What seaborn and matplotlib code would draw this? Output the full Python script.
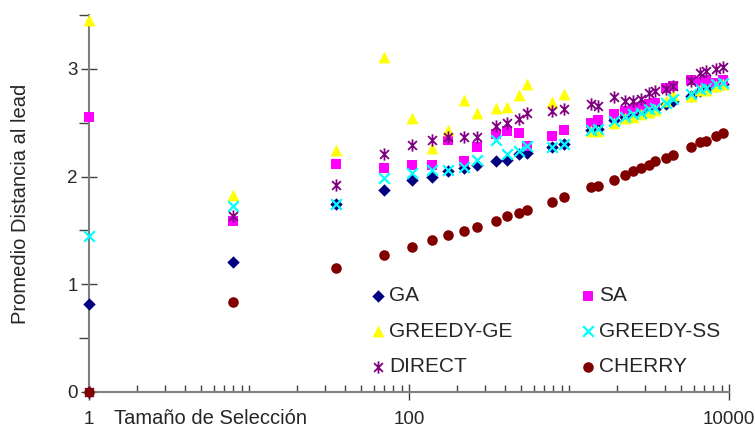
import numpy as np
import pandas as pd
import matplotlib
matplotlib.use("Agg")
import matplotlib.pyplot as plt
from matplotlib.path import Path
from matplotlib.ticker import LogLocator, FixedLocator, NullFormatter, FixedFormatter
import seaborn as sns

# ---- data ----
sizes = [1, 8, 35, 70, 105, 140, 175, 220, 265, 350, 410, 490, 550, 780, 930,
         1370, 1510, 1900, 2240, 2510, 2820, 3160, 3460, 4040, 4470, 5750,
         6590, 7150, 8300, 9140]
ga = [0.82, 1.207, 1.746, 1.879, 1.966, 1.997, 2.05, 2.081, 2.109, 2.149, 2.152,
      2.211, 2.22, 2.276, 2.307, 2.428, 2.444, 2.521, 2.555, 2.577, 2.59, 2.61,
      2.63, 2.67, 2.70, 2.75, 2.79, 2.81, 2.84, 2.86]
sa = [2.555, 1.584, 2.121, 2.081, 2.112, 2.109, 2.344, 2.142, 2.273, 2.391, 2.422,
      2.406, 2.288, 2.375, 2.437, 2.5, 2.524, 2.577, 2.607, 2.623, 2.65, 2.67,
      2.68, 2.82, 2.84, 2.9, 2.88, 2.9, 2.87, 2.9]
greedy_ge = [3.455, 1.833, 2.251, 3.113, 2.546, 2.267, 2.43, 2.71, 2.592, 2.633,
             2.648, 2.753, 2.862, 2.691, 2.769, 2.42, 2.42, 2.5, 2.546, 2.555,
             2.58, 2.6, 2.62, 2.7, 2.76, 2.75, 2.8, 2.8, 2.84, 2.86]
greedy_ss = [1.445, 1.724, 1.746, 1.988, 2.034, 2.065, 2.065, 2.09, 2.15, 2.344,
             2.205, 2.24, 2.28, 2.276, 2.307, 2.431, 2.444, 2.515, 2.555, 2.577,
             2.593, 2.623, 2.64, 2.686, 2.716, 2.763, 2.81, 2.825, 2.856, 2.87]
direct = [0, 1.631, 1.919, 2.205, 2.291, 2.338, 2.366, 2.366, 2.366, 2.465, 2.493,
          2.53, 2.592, 2.607, 2.623, 2.67, 2.652, 2.74, 2.7, 2.7, 2.72, 2.78,
          2.79, 2.81, 2.84, 2.89, 2.96, 2.98, 3.0, 3.02]
cherry = [0, 0.84, 1.153, 1.274, 1.349, 1.407, 1.454, 1.498, 1.528, 1.584, 1.631,
          1.662, 1.693, 1.765, 1.814, 1.9, 1.916, 1.972, 2.019, 2.049, 2.081,
          2.112, 2.14, 2.174, 2.198, 2.273, 2.319, 2.332, 2.375, 2.403]

series_names = ["GA", "SA", "GREEDY-GE", "GREEDY-SS", "DIRECT", "CHERRY"]
x_tick_values = [1, 100, 10000]
x_tick_labels = ["1", "100", "10000"]
y_tick_values = [0, 1, 2, 3]
y_tick_labels = ["0", "1", "2", "3"]
x_label = "Tamaño de Selección"
y_label = "Promedio Distancia al lead"

# ---- styling ----
sns.set_style("white")
plt.rcParams["font.family"] = ["Liberation Sans", "DejaVu Sans"]

star = Path([(0, -1), (0, 1), (-0.72, -0.72), (0.72, 0.72), (-0.72, 0.72), (0.72, -0.72)],
            [Path.MOVETO, Path.LINETO] * 3)

styles = {
    "GA": dict(marker="D", color="#000080", s=40, linewidth=0),
    "SA": dict(marker="s", color="#FF00FF", s=55, linewidth=0),
    "GREEDY-GE": dict(marker="^", color="#FFFF00", s=72, linewidth=0),
    "GREEDY-SS": dict(marker="x", color="#00FFFF", s=58, linewidth=1.6),
    "DIRECT": dict(marker=star, color="#800080", s=78, linewidth=1.3, edgecolor="#800080"),
    "CHERRY": dict(marker="o", color="#800000", s=58, linewidth=0),
}
values = {"GA": ga, "SA": sa, "GREEDY-GE": greedy_ge, "GREEDY-SS": greedy_ss,
          "DIRECT": direct, "CHERRY": cherry}

fig = plt.figure(figsize=(7.55, 4.30), dpi=100)
ax = fig.add_axes([89 / 755, 38 / 430, 640 / 755, 377 / 430])

for i, name in enumerate(series_names):
    df = pd.DataFrame({"x": sizes, "y": values[name]})
    sns.scatterplot(data=df, x="x", y="y", ax=ax, label=name, clip_on=False,
                    zorder=3 + i, **styles[name])

ax.set_xscale("log")
ax.set_xlim(1, 10000)
ax.set_ylim(0, 3.5)

ax.xaxis.set_major_locator(FixedLocator(x_tick_values))
ax.xaxis.set_major_formatter(FixedFormatter(x_tick_labels))
ax.xaxis.set_minor_locator(LogLocator(base=10, subs=np.arange(1, 10), numticks=20))
ax.xaxis.set_minor_formatter(NullFormatter())
ax.yaxis.set_major_locator(FixedLocator(y_tick_values))
ax.yaxis.set_major_formatter(FixedFormatter(y_tick_labels))
ax.yaxis.set_minor_locator(FixedLocator([0.5, 1.5, 2.5, 3.5]))

for side in ["top", "right"]:
    ax.spines[side].set_visible(False)
for side in ["left", "bottom"]:
    ax.spines[side].set_color("#808080")
    ax.spines[side].set_linewidth(1.5)

ax.tick_params(axis="x", which="major", direction="inout", length=11, width=1,
               color="#404040", labelsize=13.5, pad=8)
ax.tick_params(axis="x", which="minor", direction="in", length=5, width=1, color="#404040")
ax.tick_params(axis="y", which="major", direction="inout", length=12, width=1,
               color="#404040", labelsize=13.5, pad=2)
ax.tick_params(axis="y", which="minor", direction="out", length=7, width=1, color="#404040")
ax.tick_params(left=True, bottom=True, which="both")

ax.set_xlabel(x_label, fontsize=14.5, ha="left", va="center")
ax.xaxis.set_label_coords((114 - 89) / 640, -(418 - 392) / 377)
ax.set_ylabel(y_label, fontsize=14.5, va="center")
ax.yaxis.set_label_coords(-(89 - 21) / 640, 0.5)

handles, labels = ax.get_legend_handles_labels()
order = [0, 2, 4, 1, 3, 5]
ax.legend([handles[i] for i in order], [labels[i] for i in order], ncol=2,
          frameon=False, fontsize=15, loc="upper left",
          bbox_to_anchor=(371.5 / 755, 1 - 286 / 430), bbox_transform=fig.transFigure,
          borderpad=0, borderaxespad=0, handlelength=0.6, handletextpad=0.25,
          columnspacing=3.3, labelspacing=0.8, scatterpoints=1)

fig.savefig("out.png", dpi=100)
